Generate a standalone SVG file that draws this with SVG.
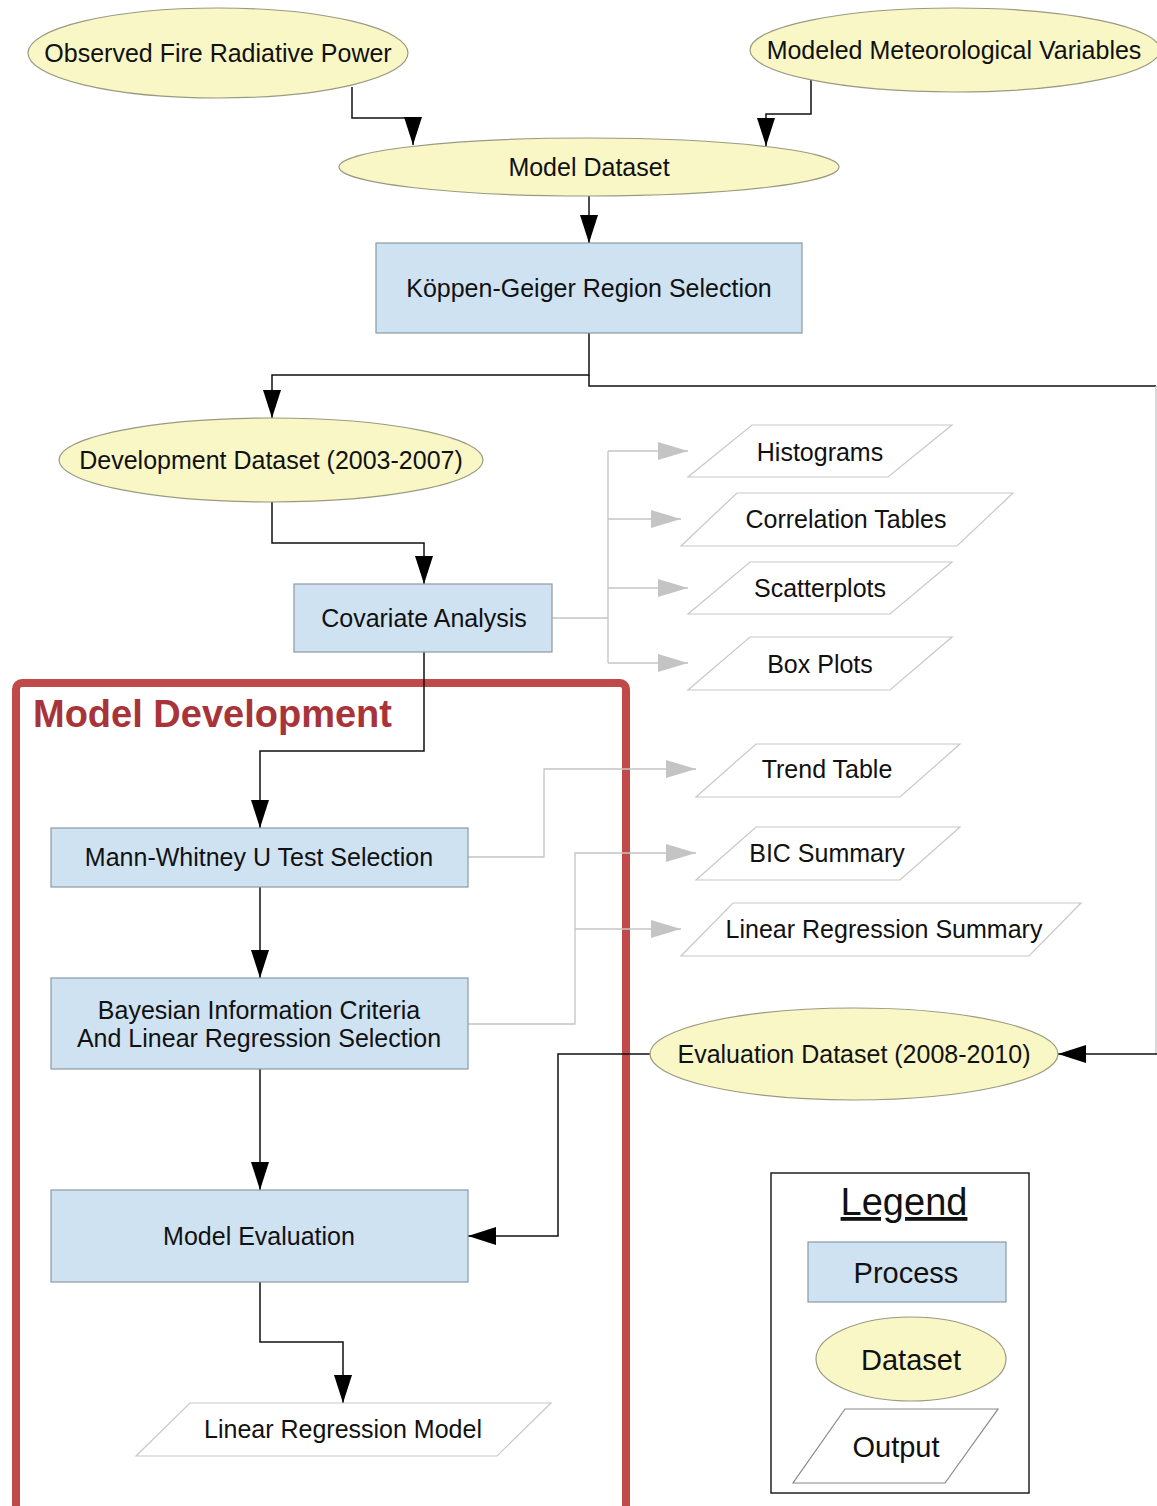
<svg xmlns="http://www.w3.org/2000/svg" width="1157" height="1506" viewBox="0 0 1157 1506">
<style>
text{font-family:"Liberation Sans",Arial,sans-serif;fill:#111;text-anchor:middle}
.lbl{font-size:25px}
.ds{fill:#f9f7c6;stroke:#9a9a80;stroke-width:1.2}
.pr{fill:#cfe2f1;stroke:#8b9aa6;stroke-width:1.2}
.out{fill:#fff;stroke:#c8c8c8;stroke-width:1.2}
.c{fill:none;stroke:#111;stroke-width:1.5}
.g{fill:none;stroke:#c4c4c4;stroke-width:1.3}
</style>
<defs>
<marker id="ab" markerUnits="userSpaceOnUse" markerWidth="28" markerHeight="18" refX="28" refY="9" orient="auto"><path d="M0,0 L28,9 L0,18 z" fill="#000"/></marker>
<marker id="ag" markerUnits="userSpaceOnUse" markerWidth="30" markerHeight="18" refX="30" refY="9" orient="auto"><path d="M0,0 L30,9 L0,18 z" fill="#c4c4c4"/></marker>
</defs>
<rect width="1157" height="1506" fill="#fff"/>

<g id="model-development-frame">
<rect x="16" y="683" width="610" height="830" rx="6" fill="none" stroke="#c04a4a" stroke-width="8"/>
<text x="33" y="727" style="font-size:38px;font-weight:bold;fill:#a8343a;text-anchor:start">Model Development</text>
</g>

<g id="connectors">
<path class="c" d="M352,87 V118 H413 V145" marker-end="url(#ab)"/>
<path class="c" d="M811,80 V114 H766 V146" marker-end="url(#ab)"/>
<path class="c" d="M589,196 V243" marker-end="url(#ab)"/>
<path class="c" d="M589,333 V375 H272 V418" marker-end="url(#ab)"/>
<path class="c" d="M589,375 V386 H1156"/>
<path class="g" d="M1156,386 V1054"/>
<path class="c" d="M1157,1054 H1058" marker-end="url(#ab)"/>
<path class="c" d="M272,502 V543 H424 V584" marker-end="url(#ab)"/>
<path class="c" d="M424,652 V751 H260 V828" marker-end="url(#ab)"/>
<path class="c" d="M260,887 V978" marker-end="url(#ab)"/>
<path class="c" d="M260,1069 V1190" marker-end="url(#ab)"/>
<path class="c" d="M260,1282 V1342 H343 V1403" marker-end="url(#ab)"/>
<path class="c" d="M650,1054 H558 V1236 H468" marker-end="url(#ab)"/>
<path class="g" d="M552,618 H608"/>
<path class="g" d="M608,451 V663"/>
<path class="g" d="M608,451 H688" marker-end="url(#ag)"/>
<path class="g" d="M608,519 H681" marker-end="url(#ag)"/>
<path class="g" d="M608,588 H688" marker-end="url(#ag)"/>
<path class="g" d="M608,663 H688" marker-end="url(#ag)"/>
<path class="g" d="M468,857 H544 V769 H696" marker-end="url(#ag)"/>
<path class="g" d="M468,1024 H575 V853 H696" marker-end="url(#ag)"/>
<path class="g" d="M575,929 H681" marker-end="url(#ag)"/>
</g>

<g id="observed-frp">
<ellipse class="ds" cx="218" cy="53" rx="190" ry="45"/>
<text class="lbl" x="218" y="62">Observed Fire Radiative Power</text>
</g>
<g id="modeled-met">
<ellipse class="ds" cx="955" cy="50" rx="205" ry="42"/>
<text class="lbl" x="954" y="59">Modeled Meteorological Variables</text>
</g>
<g id="model-dataset">
<ellipse class="ds" cx="589" cy="167" rx="250" ry="29"/>
<text class="lbl" x="589" y="176">Model Dataset</text>
</g>
<g id="koppen">
<rect class="pr" x="376" y="243" width="426" height="90"/>
<text class="lbl" x="589" y="297">Köppen-Geiger Region Selection</text>
</g>
<g id="development-dataset">
<ellipse class="ds" cx="271" cy="460" rx="212" ry="42"/>
<text class="lbl" x="271" y="469">Development Dataset (2003-2007)</text>
</g>
<g id="covariate">
<rect class="pr" x="294" y="584" width="258" height="68"/>
<text class="lbl" x="424" y="627">Covariate Analysis</text>
</g>
<g id="histograms">
<path class="out" d="M752,425 H952 L888,477 H688 Z"/>
<text class="lbl" x="820" y="461">Histograms</text>
</g>
<g id="correlation-tables">
<path class="out" d="M737,493 H1013 L957,546 H681 Z"/>
<text class="lbl" x="846" y="528">Correlation Tables</text>
</g>
<g id="scatterplots">
<path class="out" d="M750,562 H952 L890,614 H688 Z"/>
<text class="lbl" x="820" y="597">Scatterplots</text>
</g>
<g id="box-plots">
<path class="out" d="M750,637 H952 L890,690 H688 Z"/>
<text class="lbl" x="820" y="673">Box Plots</text>
</g>
<g id="mann-whitney">
<rect class="pr" x="51" y="828" width="417" height="59"/>
<text class="lbl" x="259" y="866">Mann-Whitney U Test Selection</text>
</g>
<g id="trend-table">
<path class="out" d="M756,744 H960 L900,797 H696 Z"/>
<text class="lbl" x="827" y="778">Trend Table</text>
</g>
<g id="bic-summary">
<path class="out" d="M756,827 H960 L900,880 H696 Z"/>
<text class="lbl" x="827" y="862">BIC Summary</text>
</g>
<g id="lr-summary">
<path class="out" d="M733,903 H1081 L1029,956 H681 Z"/>
<text class="lbl" x="884" y="938">Linear Regression Summary</text>
</g>
<g id="bayesian">
<rect class="pr" x="51" y="978" width="417" height="91"/>
<text class="lbl" x="259" y="1019">Bayesian Information Criteria</text>
<text class="lbl" x="259" y="1047">And Linear Regression Selection</text>
</g>
<g id="evaluation-dataset">
<ellipse class="ds" cx="854" cy="1054" rx="204" ry="46"/>
<text class="lbl" x="854" y="1063">Evaluation Dataset (2008-2010)</text>
</g>
<g id="model-evaluation">
<rect class="pr" x="51" y="1190" width="417" height="92"/>
<text class="lbl" x="259" y="1245">Model Evaluation</text>
</g>
<g id="lr-model">
<path class="out" d="M190,1403 H551 L497,1456 H136 Z"/>
<text class="lbl" x="343" y="1438">Linear Regression Model</text>
</g>

<g id="legend">
<rect x="771" y="1173" width="258" height="320" fill="#fff" stroke="#222" stroke-width="1.5"/>
<text x="904" y="1215" style="font-size:38px;text-decoration:underline">Legend</text>
<rect class="pr" x="808" y="1242" width="198" height="60"/>
<text x="906" y="1283" style="font-size:29px">Process</text>
<ellipse class="ds" cx="911" cy="1359" rx="95" ry="42"/>
<text x="911" y="1370" style="font-size:29px">Dataset</text>
<path d="M845,1409 H998 L945,1483 H793 Z" fill="#fff" stroke="#888" stroke-width="1.2"/>
<text x="896" y="1457" style="font-size:29px">Output</text>
</g>
</svg>
